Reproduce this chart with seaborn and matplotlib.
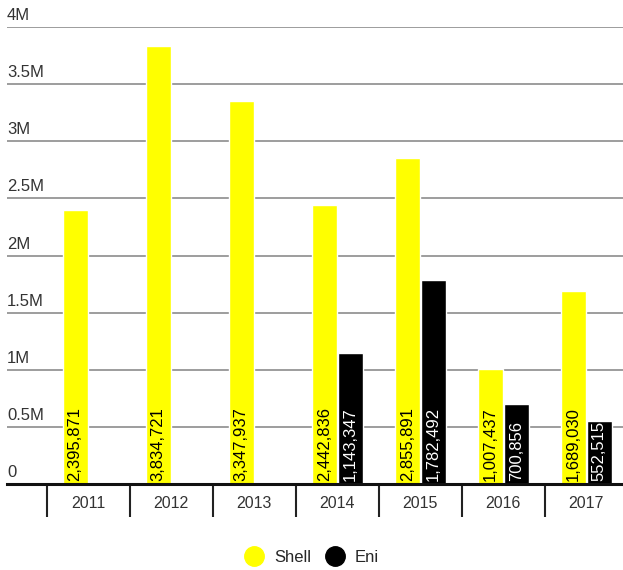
import numpy as np
import pandas as pd
import matplotlib
matplotlib.use("Agg")
import matplotlib.pyplot as plt
from matplotlib.lines import Line2D
from matplotlib.ticker import FixedLocator
import seaborn as sns

# Chart data
YEARS = ['2011', '2012', '2013', '2014', '2015', '2016', '2017']
SHELL = [2395871, 3834721, 3347937, 2442836, 2855891, 1007437, 1689030]
ENI = [np.nan, np.nan, np.nan, 1143347, 1782492, 700856, 552515]
SERIES = ['Shell', 'Eni']
COLORS = {'Shell': '#ffff00', 'Eni': '#000000'}
Y_TICKS = [0, 500000, 1000000, 1500000, 2000000, 2500000, 3000000, 3500000, 4000000]
Y_LABELS = ['0', '0.5M', '1M', '1.5M', '2M', '2.5M', '3M', '3.5M', '4M']

sns.set_style('white')
plt.rcParams['font.family'] = ['Liberation Sans', 'DejaVu Sans']

df = pd.DataFrame({
    'year': YEARS * 2,
    'company': ['Shell'] * len(YEARS) + ['Eni'] * len(YEARS),
    'value': SHELL + ENI,
})

fig = plt.figure(figsize=(6.23, 5.70), dpi=100)
ax = fig.add_axes([7 / 623, 86 / 570, 616 / 623, (484 - 27) / 570])

sns.barplot(data=df, x='year', y='value', hue='company', hue_order=SERIES,
            palette=COLORS, width=0.63, gap=0.05, saturation=1,
            errorbar=None, legend=False, ax=ax, zorder=3)

ax.set_xlim(-0.978, 6.443)
ax.set_ylim(0, 4000000)

# horizontal grid
ax.set_yticks(Y_TICKS)
ax.set_yticklabels([])
ax.tick_params(axis='y', length=0)
ax.grid(axis='y', color='#8c8c8c', linewidth=1.2, zorder=0)
ax.set_axisbelow(True)
for val, lab in zip(Y_TICKS, Y_LABELS):
    ax.text(0, val + 35000, lab, transform=ax.get_yaxis_transform(),
            ha='left', va='bottom', fontsize=12, color='#333333')

# spines
for s in ['top', 'right', 'left']:
    ax.spines[s].set_visible(False)
ax.spines['bottom'].set_color('#111111')
ax.spines['bottom'].set_linewidth(2.2)
ax.spines['bottom'].set_zorder(5)

# category separators as minor ticks
ax.xaxis.set_minor_locator(FixedLocator(np.arange(-0.5, len(YEARS) + 0.5, 1.0)))
ax.tick_params(axis='x', which='minor', bottom=True, length=24, width=1.5,
               color='#222222', direction='out')
ax.tick_params(axis='x', which='major', length=0, pad=9, labelsize=11.5,
               labelcolor='#333333')
ax.set_xlabel('')
ax.set_ylabel('')

# value labels at the bottom of each bar
for container, name in zip(ax.containers, SERIES):
    txt_color = '#000000' if name == 'Shell' else '#ffffff'
    for patch in container:
        h = patch.get_height()
        if np.isnan(h) or h == 0:
            continue
        ax.annotate(f'{h:,.0f}', (patch.get_x() + patch.get_width() / 2, 0),
                    xytext=(0, 2), textcoords='offset points',
                    rotation=90, ha='center', va='bottom',
                    fontsize=12, color=txt_color, zorder=6)

# legend
handles = [Line2D([], [], marker='o', linestyle='', markersize=14,
                  markerfacecolor=COLORS[n], markeredgecolor=COLORS[n], label=n)
           for n in SERIES]
fig.legend(handles=handles, loc='center', bbox_to_anchor=(0.5, 13 / 570),
           ncol=2, frameon=False, fontsize=12, handletextpad=0.6,
           columnspacing=0.8, handlelength=1.2)

fig.savefig('out.png', dpi=100, facecolor='white')
